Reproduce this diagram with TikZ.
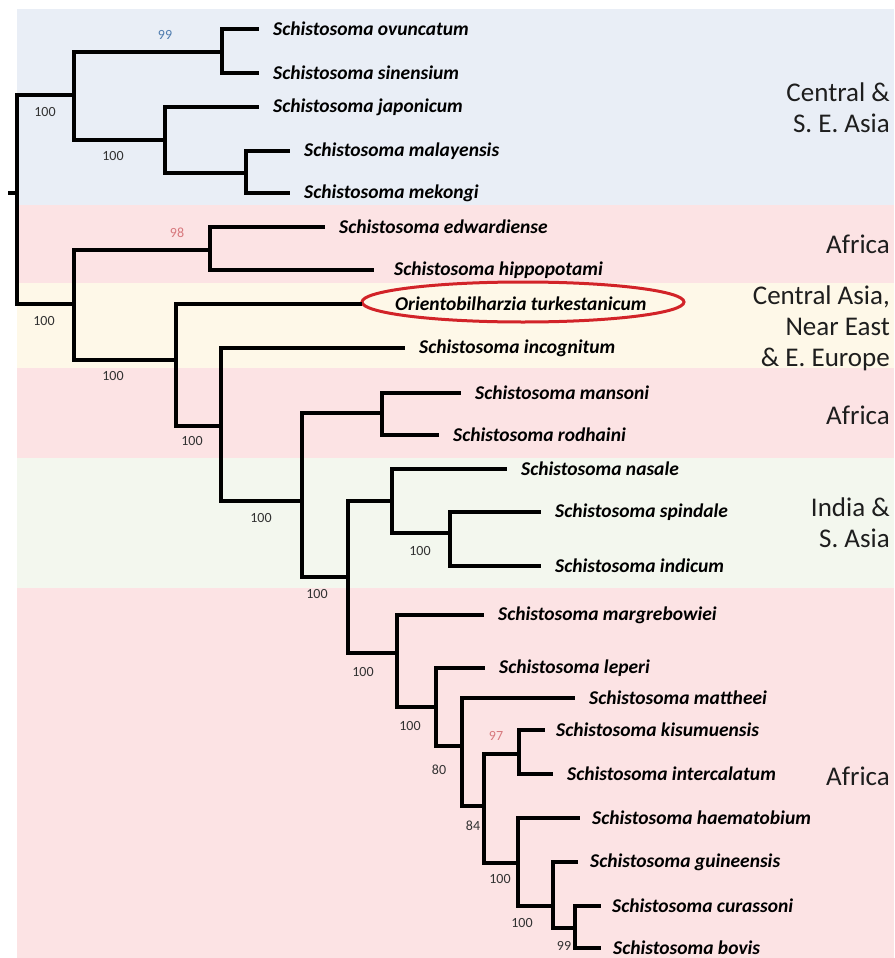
\documentclass[tikz,border=0pt]{standalone}
\usepackage{fontspec}
\setmainfont{Carlito}
\usepackage{xcolor}
\usepackage{tikz}
\definecolor{asiablue}{RGB}{233,238,246}
\definecolor{afrpink}{RGB}{252,227,228}
\definecolor{nearyellow}{RGB}{254,248,232}
\definecolor{indgreen}{RGB}{243,247,238}
\definecolor{bootgray}{RGB}{50,50,50}
\definecolor{bootblue}{RGB}{80,125,175}
\definecolor{bootred}{RGB}{215,120,125}
\definecolor{regiongray}{RGB}{30,30,30}
\definecolor{ovalred}{RGB}{210,35,40}

\begin{document}
\begin{tikzpicture}[x=1pt,y=-1pt]

    \tikzstyle{leaf}=[anchor=west,inner xsep=14pt,inner ysep=1pt,font=\fontsize{19.5}{21}\selectfont\bfseries\itshape]
    \tikzstyle{boot}=[text=bootgray,inner sep=0pt,font=\fontsize{14}{15}\selectfont]
    \tikzstyle{region}=[anchor=east,align=right,inner sep=0pt,text=regiongray,font=\fontsize{27}{31}\selectfont]
    \tikzstyle{branch}=[draw=black,line width=3.2pt]
    \tikzstyle{hl}=[draw=ovalred,line width=3pt]

    \useasboundingbox (0,0) rectangle (894,958);

    % bands
    \fill[asiablue]   (17,9)   rectangle (894,205);
    \fill[afrpink]    (17,205) rectangle (894,283);
    \fill[nearyellow] (17,283) rectangle (894,368);
    \fill[afrpink]    (17,368) rectangle (894,458);
    \fill[indgreen]   (17,458) rectangle (894,588);
    \fill[afrpink]    (17,588) rectangle (894,958);

    \node[region] (rasia) at (890,108) {Central \&\\S. E. Asia};
    \node[region] (rafr1) at (890,244) {Africa};
    \node[region] (rnear) at (890,328) {Central Asia,\\Near East\\\& E. Europe};
    \node[region] (rafr2) at (890,415) {Africa};
    \node[region] (rind)  at (890,523) {India \&\\S. Asia};
    \node[region] (rafr3) at (890,776) {Africa};

    \coordinate (stub) at (8,193);
    \coordinate (root) at (17,193);
    \coordinate (asia) at (74,95);
    \coordinate (oj)   at (222,52);
    \coordinate (jm)   at (165,140);
    \coordinate (mm)   at (246,173);
    \coordinate (afr)  at (74,304);
    \coordinate (eh)   at (210,250);
    \coordinate (ot)   at (176,360);
    \coordinate (inc)  at (221,426);
    \coordinate (rest) at (302,501);
    \coordinate (mr)   at (382,413);
    \coordinate (big)  at (348,577);
    \coordinate (ind)  at (392,501);
    \coordinate (si)   at (450,533);
    \coordinate (hae)  at (397,653);
    \coordinate (lep)  at (436,707);
    \coordinate (mat)  at (462,746);
    \coordinate (kh)   at (484,806);
    \coordinate (ki)   at (519,754);
    \coordinate (hg)   at (518,863);
    \coordinate (gcb)  at (553,906);
    \coordinate (cb)   at (575,928);

    \node[leaf] (ovun) at (259,29)  {Schistosoma ovuncatum};
    \node[leaf] (sine) at (259,73)  {Schistosoma sinensium};
    \node[leaf] (japo) at (259,107) {Schistosoma japonicum};
    \node[leaf] (mala) at (290,151) {Schistosoma malayensis};
    \node[leaf] (meko) at (290,193) {Schistosoma mekongi};
    \node[leaf] (edwa) at (325,227) {Schistosoma edwardiense};
    \node[leaf,inner xsep=20pt] (hipp) at (374,270) {Schistosoma hippopotami};
    \node[leaf,inner xsep=33pt] (orie) at (362,304) {Orientobilharzia turkestanicum};
    \node[leaf] (inco) at (405,348) {Schistosoma incognitum};
    \node[leaf] (mans) at (461,393) {Schistosoma mansoni};
    \node[leaf] (rodh) at (439,435) {Schistosoma rodhaini};
    \node[leaf] (nasa) at (507,469) {Schistosoma nasale};
    \node[leaf] (spin) at (541,512) {Schistosoma spindale};
    \node[leaf] (indi) at (541,566) {Schistosoma indicum};
    \node[leaf] (marg) at (484,615) {Schistosoma margrebowiei};
    \node[leaf] (lepe) at (485,668) {Schistosoma leperi};
    \node[leaf] (matt) at (575,698) {Schistosoma mattheei};
    \node[leaf,inner xsep=11pt] (kisu) at (545,730) {Schistosoma kisumuensis};
    \node[leaf] (inte) at (553,774) {Schistosoma intercalatum};
    \node[leaf,inner xsep=12pt] (haem) at (580,818) {Schistosoma haematobium};
    \node[leaf,inner xsep=12pt] (guin) at (578,862) {Schistosoma guineensis};
    \node[leaf,inner xsep=11pt] (cura) at (601,906) {Schistosoma curassoni};
    \node[leaf,inner xsep=12pt] (bovi) at (601,948) {Schistosoma bovis};

    \draw[hl] (523,302) ellipse [x radius=161pt, y radius=20pt];

    \node[boot,text=bootblue] (b99a) at (165,35)  {99};
    \node[boot] (b100a) at (45,112)  {100};
    \node[boot] (b100b) at (113,156) {100};
    \node[boot,text=bootred] (b98) at (177,233) {98};
    \node[boot] (b100c) at (44,321)  {100};
    \node[boot] (b100d) at (113,376) {100};
    \node[boot] (b100e) at (192,441) {100};
    \node[boot] (b100f) at (261,518) {100};
    \node[boot] (b100g) at (420,551) {100};
    \node[boot] (b100h) at (317,594) {100};
    \node[boot] (b100i) at (363,672) {100};
    \node[boot] (b100j) at (410,726) {100};
    \node[boot,text=bootred] (b97) at (496,736) {97};
    \node[boot] (b80)   at (439,770) {80};
    \node[boot] (b84)   at (473,826) {84};
    \node[boot] (b100k) at (500,879) {100};
    \node[boot] (b100l) at (522,923) {100};
    \node[boot] (b99b)  at (564,946) {99};

    \draw [branch] (stub) -- (root);
    \draw [branch] (root) |- (asia);
    \draw [branch] (root) |- (afr);

    \draw [branch] (asia) |- (oj);
    \draw [branch] (asia) |- (jm);
    \draw [branch] (oj) |- (ovun);
    \draw [branch] (oj) |- (sine);
    \draw [branch] (jm) |- (japo);
    \draw [branch] (jm) |- (mm);
    \draw [branch] (mm) |- (mala);
    \draw [branch] (mm) |- (meko);

    \draw [branch] (afr) |- (eh);
    \draw [branch] (afr) |- (ot);
    \draw [branch] (eh) |- (edwa);
    \draw [branch] (eh) |- (hipp);
    \draw [branch] (ot) |- (orie);
    \draw [branch] (ot) |- (inc);
    \draw [branch] (inc) |- (inco);
    \draw [branch] (inc) |- (rest);
    \draw [branch] (rest) |- (mr);
    \draw [branch] (rest) |- (big);
    \draw [branch] (mr) |- (mans);
    \draw [branch] (mr) |- (rodh);
    \draw [branch] (big) |- (ind);
    \draw [branch] (big) |- (hae);
    \draw [branch] (ind) |- (nasa);
    \draw [branch] (ind) |- (si);
    \draw [branch] (si) |- (spin);
    \draw [branch] (si) |- (indi);

    \draw [branch] (hae) |- (marg);
    \draw [branch] (hae) |- (lep);
    \draw [branch] (lep) |- (lepe);
    \draw [branch] (lep) |- (mat);
    \draw [branch] (mat) |- (matt);
    \draw [branch] (mat) |- (kh);
    \draw [branch] (kh) |- (ki);
    \draw [branch] (kh) |- (hg);
    \draw [branch] (ki) |- (kisu);
    \draw [branch] (ki) |- (inte);
    \draw [branch] (hg) |- (haem);
    \draw [branch] (hg) |- (gcb);
    \draw [branch] (gcb) |- (guin);
    \draw [branch] (gcb) |- (cb);
    \draw [branch] (cb) |- (cura);
    \draw [branch] (cb) |- (bovi);

\end{tikzpicture}
\end{document}
